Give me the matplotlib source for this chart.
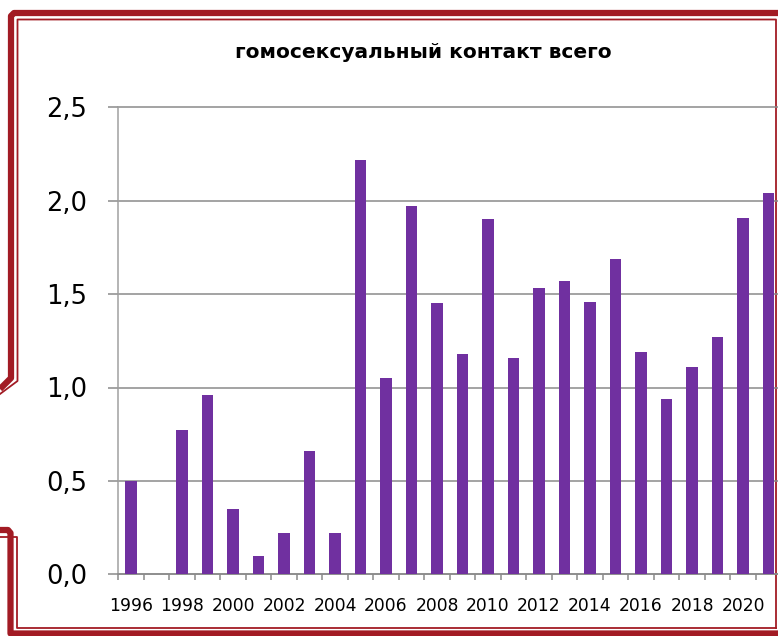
import numpy as np
import matplotlib
matplotlib.use("Agg")
import matplotlib.pyplot as plt
from matplotlib.lines import Line2D

years = list(range(1996, 2022))
values = [0.50, np.nan, 0.77, 0.96, 0.35, 0.10, 0.22, 0.66, 0.22, 2.22,
          1.05, 1.97, 1.45, 1.18, 1.90, 1.16, 1.53, 1.57, 1.46, 1.69,
          1.19, 0.94, 1.11, 1.27, 1.91, 2.04]
y_ticks = [0.0, 0.5, 1.0, 1.5, 2.0, 2.5]
y_tick_labels = ["0,0", "0,5", "1,0", "1,5", "2,0", "2,5"]
title = "гомосексуальный контакт всего"

BAR = "#7030a0"
GRID = "#8a8a8a"
FRAME = "#a21b24"

W, H = 778, 636
fig = plt.figure(figsize=(W / 100, H / 100), dpi=100)
plt.rcParams["font.family"] = ["DejaVu Sans"]

# decorative frame, drawn in pixel space on a background axes
bg = fig.add_axes([0, 0, 1, 1], zorder=0)
bg.set_xlim(0, W)
bg.set_ylim(H, 0)
bg.axis("off")
# upper piece
bg.plot([0, 11, 11, 14, W], [389, 378, 16, 13, 13], color=FRAME, lw=4.5,
        solid_joinstyle="round", solid_capstyle="butt")
bg.plot([0, 17.5, 17.5, 776, 776], [394, 381, 19.5, 19.5, 628],
        color=FRAME, lw=1.3)
# lower piece
bg.plot([0, 8, 10.5, 10.5, W], [530, 530, 533, 633.5, 633.5], color=FRAME,
        lw=4.5, solid_joinstyle="round", solid_capstyle="butt")
bg.plot([0, 17.5, 17.5, 776], [537, 537, 628, 628], color=FRAME, lw=1.3)

left, right, bottom, top = 118.3, 781.3, 574.3, 107.3
ax = fig.add_axes([left / W, 1 - bottom / H, (right - left) / W, (bottom - top) / H],
                  zorder=1)
ax.patch.set_alpha(0)

x = np.arange(len(years))
ax.bar(x, values, width=0.46, color=BAR, zorder=3)

ax.set_xlim(-0.5, len(years) - 0.5)
ax.set_ylim(0, 2.5)

ax.set_yticks(y_ticks)
ax.set_yticklabels(y_tick_labels, fontsize=18.5)
ax.yaxis.grid(True, color=GRID, lw=1.1, zorder=0)
ax.tick_params(axis="y", direction="out", length=7.5, width=1.1, color=GRID,
               pad=15)
for gl in ax.get_ygridlines():
    gl.set_clip_on(False)

ax.set_xticks(x[::2])
ax.set_xticklabels([str(y) for y in years[::2]], fontsize=12.3)
ax.set_xticks(np.arange(-0.5, len(years)), minor=True)
ax.tick_params(axis="x", which="major", length=0, pad=16)
ax.tick_params(axis="x", which="minor", direction="out", length=4.3,
               width=1.1, color=GRID)

for s in ["top", "right"]:
    ax.spines[s].set_visible(False)
ax.spines["left"].set_color("#a0a0a0")
ax.spines["bottom"].set_color(GRID)
ax.spines["left"].set_linewidth(1.1)
ax.spines["bottom"].set_linewidth(1.1)

# extend the grid lines to the left, past the spine, like the y ticks
fig.text(423 / W, 1 - 52 / H, title, ha="center", va="center",
         fontsize=14.5, fontweight="bold")

fig.savefig("out.png", dpi=100)
